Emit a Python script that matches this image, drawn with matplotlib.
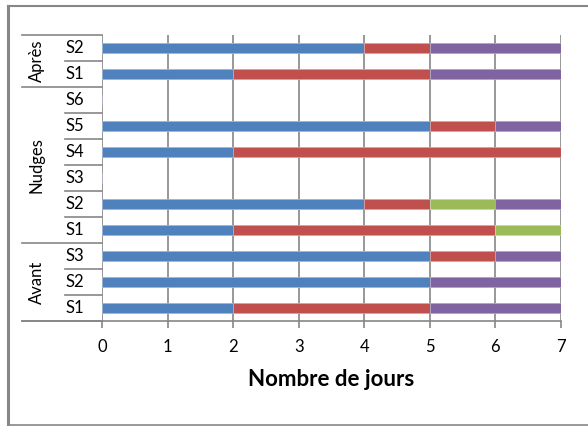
import matplotlib.pyplot as plt
from matplotlib.lines import Line2D

plt.rcParams['font.family'] = ['Lato', 'DejaVu Sans']

# Data (bottom to top)
sessions = ["S1", "S2", "S3", "S1", "S2", "S3", "S4", "S5", "S6", "S1", "S2"]
groups = ["Avant", "Nudges", "Après"]
group_sizes = [3, 6, 2]

blue = [2, 5, 5, 2, 4, 0, 2, 5, 0, 2, 4]
red = [3, 0, 1, 4, 1, 0, 5, 1, 0, 3, 1]
green = [0, 0, 0, 1, 1, 0, 0, 0, 0, 0, 0]
purple = [2, 2, 1, 0, 1, 0, 0, 1, 0, 2, 2]

series = [blue, red, green, purple]
colors = ["#4F81BD", "#C0504D", "#9BBB59", "#8064A2"]
edges = ["#9DB6DA", "#DE9E9C", "#C6D9A8", "#B3A2C8"]

grid_c = "#868686"

fig = plt.figure(figsize=(5.88, 4.26), dpi=100)
W, H = 588, 426
x0, x1, y_top, y_bot = 102, 561, 35, 321
ax = fig.add_axes([x0 / W, 1 - y_bot / H, (x1 - x0) / W, (y_bot - y_top) / H])

ypos = list(range(len(sessions)))
left = [0] * len(sessions)
for vals, c, ec in zip(series, colors, edges):
    ax.barh(ypos, vals, left=left, height=0.4, color=c, edgecolor=ec, linewidth=0.6, zorder=3)
    left = [l + v for l, v in zip(left, vals)]

ax.set_xlim(0, 7)
ax.set_ylim(-0.5, len(sessions) - 0.5)
ax.set_xticks(range(8))
ax.set_yticks([])
for s in ax.spines.values():
    s.set_visible(False)
ax.xaxis.grid(True, color=grid_c, linewidth=1.2, zorder=1)
ax.tick_params(axis='x', length=5, width=1.2, color=grid_c, labelsize=12, pad=8)
ax.set_xlabel("Nombre de jours", fontsize=16, fontweight='bold', labelpad=10)

tr = ax.get_yaxis_transform()
px = x1 - x0
cat_x = (65 - x0) / px
grp_x = (22 - x0) / px

# bottom axis line
ax.add_line(Line2D([grp_x, 1], [-0.5, -0.5], transform=tr, color=grid_c, lw=1.2, clip_on=False))

bounds = [-0.5]
for g in group_sizes:
    bounds.append(bounds[-1] + g)
for k in range(len(sessions) + 1):
    y = k - 0.5
    xs = grp_x if y in bounds else cat_x
    ax.add_line(Line2D([xs, 0], [y, y], transform=tr, color=grid_c, lw=1.2, clip_on=False))

for i, s in enumerate(sessions):
    ax.text((75 - x0) / px, i, s, transform=tr, ha='center', va='center', fontsize=12)

for g, b0, b1 in zip(groups, bounds[:-1], bounds[1:]):
    ax.text((37 - x0) / px, (b0 + b1) / 2, g, transform=tr, ha='center', va='center',
            rotation=90, fontsize=12)

# chart area frame
fc = "#878787"
fig.add_artist(Line2D([8 / W, 8 / W], [1 - 6 / H, 1 - 424.5 / H], color=fc, lw=2.2))
fig.add_artist(Line2D([8 / W, 1], [1 - 6 / H, 1 - 6 / H], color=fc, lw=1.5))
fig.add_artist(Line2D([8 / W, 1], [1 - 424.5 / H, 1 - 424.5 / H], color=fc, lw=1.2))

fig.savefig("out.png", dpi=100)
